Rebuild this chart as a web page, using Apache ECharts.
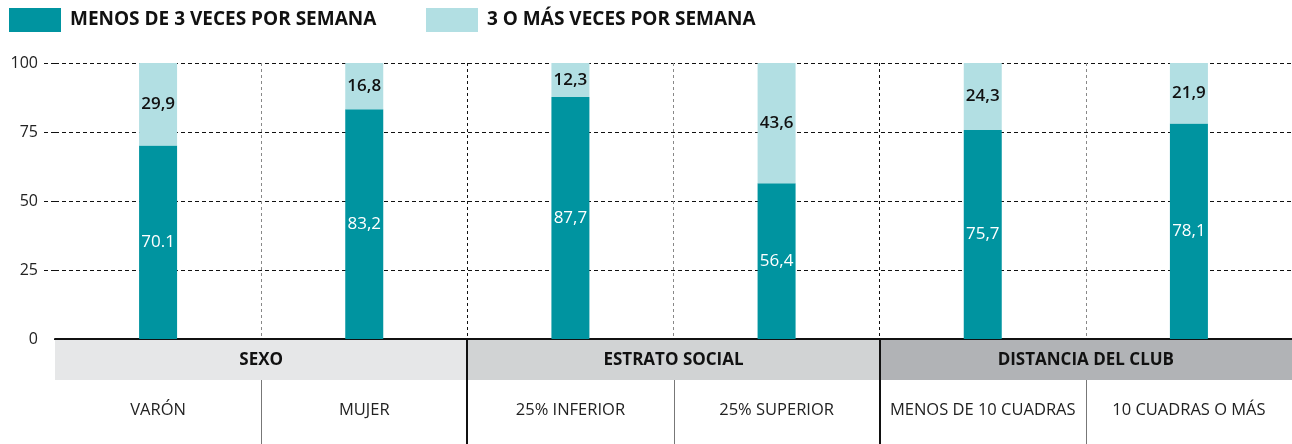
<!DOCTYPE html>
<html>
<head>
    <meta charset="UTF-8">
    <title>Frecuencia semanal</title>
    <style>
        html, body { margin: 0; padding: 0; background: #fff; }
        #box { width: 1292px; height: 444px; }
    </style>
    <script src="https://cdn.jsdelivr.net/npm/echarts@6/dist/echarts.min.js"></script>
</head>
<body>
<div id="box"></div>
<script>
    // datos
    var categories = ['VARÓN', 'MUJER', '25% INFERIOR', '25% SUPERIOR', 'MENOS DE 10 CUADRAS', '10 CUADRAS O MÁS'];
    var groups = ['SEXO', 'ESTRATO SOCIAL', 'DISTANCIA DEL CLUB'];
    var groupSize = [2, 2, 2];
    var seriesNames = ['MENOS DE 3 VECES POR SEMANA', '3 O MÁS VECES POR SEMANA'];
    var menosDe3 = [70.1, 83.2, 87.7, 56.4, 75.7, 78.1];
    var tresOMas = [29.9, 16.8, 12.3, 43.6, 24.3, 21.9];
    var menosDe3Labels = ['70.1', '83,2', '87,7', '56,4', '75,7', '78,1'];
    var tresOMasLabels = ['29,9', '16,8', '12,3', '43,6', '24,3', '21,9'];
    var yTicks = [0, 25, 50, 75, 100];

    var FONT = 'Open Sans';
    var DARK = '#0094a0';
    var LIGHT = '#b2dfe3';
    var bandColors = ['#e6e7e8', '#d1d3d4', '#b1b3b6'];

    var myChart = echarts.init(document.getElementById('box'));

    var legendBase = {
        top: 8,
        padding: 0,
        icon: 'rect',
        itemWidth: 52,
        itemHeight: 24,
        selectedMode: false,
        textStyle: { fontFamily: FONT, fontSize: 19, fontWeight: 'bold', color: '#111', padding: [0, 0, 0, 4] }
    };

    var option = {
        animation: false,
        backgroundColor: '#fff',
        textStyle: { fontFamily: FONT },
        legend: [
            Object.assign({}, legendBase, { left: 9, data: [seriesNames[0]] }),
            Object.assign({}, legendBase, { left: 426, data: [seriesNames[1]] })
        ],
        grid: { left: 55, right: -2, top: 63, bottom: 105, containLabel: false },
        xAxis: {
            type: 'category',
            data: categories,
            boundaryGap: true,
            axisLine: { show: true, lineStyle: { color: '#111', width: 2 } },
            axisTick: { show: false },
            axisLabel: { interval: 0, margin: 63, fontFamily: FONT, fontSize: 16.5, color: '#222' },
            splitLine: {
                show: true,
                interval: 0,
                lineStyle: {
                    type: [3, 3],
                    width: 1,
                    color: ['rgba(0,0,0,0)', '#888', '#111', '#888', '#111', '#888', 'rgba(0,0,0,0)']
                }
            }
        },
        yAxis: {
            type: 'value',
            min: 0,
            max: 100,
            interval: 25,
            axisLine: { show: false },
            axisTick: { show: true, length: 12, lineStyle: { color: '#111', type: [4, 3] } },
            axisLabel: {
                margin: 17,
                fontFamily: FONT,
                fontSize: 16,
                color: '#222',
                formatter: function (v) { return yTicks.indexOf(v) >= 0 ? String(v) : ''; }
            },
            splitLine: { show: true, lineStyle: { color: '#111', type: [4, 3], width: 1 } }
        },
        series: [
            {
                name: seriesNames[0],
                type: 'bar',
                stack: 'total',
                barWidth: 38,
                itemStyle: { color: DARK },
                label: {
                    show: true,
                    position: 'inside',
                    color: '#fff',
                    fontFamily: FONT,
                    fontSize: 17,
                    formatter: function (p) { return menosDe3Labels[p.dataIndex]; }
                },
                data: menosDe3
            },
            {
                name: seriesNames[1],
                type: 'bar',
                stack: 'total',
                barWidth: 38,
                itemStyle: { color: LIGHT },
                label: {
                    show: true,
                    position: 'inside',
                    color: '#111',
                    fontFamily: FONT,
                    fontSize: 17,
                    fontWeight: 600,
                    formatter: function (p) { return tresOMasLabels[p.dataIndex]; }
                },
                data: tresOMas
            }
        ]
    };

    myChart.setOption(option);

    // franjas de grupo debajo del eje
    var c0 = myChart.convertToPixel({ xAxisIndex: 0 }, 0);
    var c1 = myChart.convertToPixel({ xAxisIndex: 0 }, 1);
    var step = c1 - c0;
    var yAxis0 = myChart.convertToPixel({ yAxisIndex: 0 }, 0);
    var bandTop = yAxis0 + 1;
    var bandH = 40;
    var bottom = 444;

    var graphics = [];
    // tapar la marca punteada del 0 (en el original no hay)
    graphics.push({
        type: 'rect', z: 5,
        shape: { x: 41, y: yAxis0 - 2, width: 13, height: 4 },
        style: { fill: '#fff' }
    });
    var idx = 0;
    groups.forEach(function (g, gi) {
        var x0 = c0 - step / 2 + idx * step;
        var w = groupSize[gi] * step;
        graphics.push({
            type: 'rect', z: 1,
            shape: { x: x0, y: bandTop, width: w, height: bandH },
            style: { fill: bandColors[gi] }
        });
        graphics.push({
            type: 'text', z: 2,
            x: x0 + w / 2, y: bandTop + bandH / 2,
            style: { text: g, fontFamily: FONT, fontSize: 17, fontWeight: 'bold', fill: '#111', align: 'center', verticalAlign: 'middle' }
        });
        // separador gris entre categorías del grupo
        for (var k = 1; k < groupSize[gi]; k++) {
            var xs = Math.round(x0 + k * step) + 0.5;
            graphics.push({
                type: 'line', z: 3,
                shape: { x1: xs, y1: bandTop + bandH, x2: xs, y2: bottom },
                style: { stroke: '#777', lineWidth: 1 }
            });
        }
        // separador negro entre grupos
        if (gi > 0) {
            var xb = Math.round(x0);
            graphics.push({
                type: 'line', z: 3,
                shape: { x1: xb, y1: yAxis0 - 1, x2: xb, y2: bottom },
                style: { stroke: '#111', lineWidth: 2 }
            });
        }
        idx += groupSize[gi];
    });

    myChart.setOption({ graphic: graphics });
</script>
</body>
</html>
